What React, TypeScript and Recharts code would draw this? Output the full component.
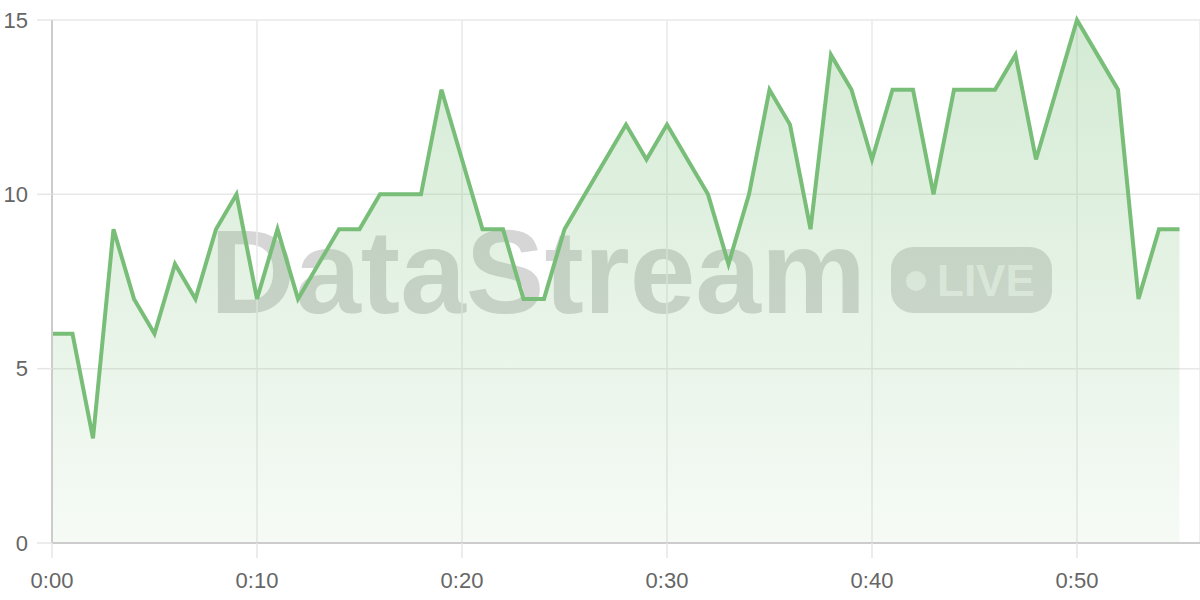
import React from "react";
import { AreaChart, Area, XAxis, YAxis, CartesianGrid } from "recharts";

const minutes: number[] = [
  0, 1, 2, 3, 4, 5, 6, 7, 8, 9, 10, 11, 12, 13, 14, 15, 16, 17, 18, 19,
  20, 21, 22, 23, 24, 25, 26, 27, 28, 29, 30, 31, 32, 33, 34, 35, 36, 37, 38, 39,
  40, 41, 42, 43, 44, 45, 46, 47, 48, 49, 50, 51, 52, 53, 54, 55,
];
const values: number[] = [
  6, 6, 3, 9, 7, 6, 8, 7, 9, 10, 7, 9, 7, 8, 9, 9, 10, 10, 10, 13,
  11, 9, 9, 7, 7, 9, 10, 11, 12, 11, 12, 11, 10, 8, 10, 13, 12, 9, 14, 13,
  11, 13, 13, 10, 13, 13, 13, 14, 11, 13, 15, 14, 13, 7, 9, 9,
];
const xTicks: number[] = [0, 10, 20, 30, 40, 50];
const yTicks: number[] = [0, 5, 10, 15];
const watermarkTitle = "DataStream";
const watermarkBadge = "LIVE";

const data = minutes.map((m, i) => ({ t: m, v: values[i] }));

const fmtTime = (m: number) => `${Math.floor(m / 60)}:${String(m % 60).padStart(2, "0")}`;

const FONT = "'Liberation Sans', Arial, Helvetica, sans-serif";

export default function App() {
  return (
    <div style={{ position: "absolute", left: 0, top: 0, width: 1200, height: 600, background: "#fff" }}>
      <svg
        width={1200}
        height={600}
        style={{ position: "absolute", left: 0, top: 0 }}
      >
        <text
          x={210}
          y={313}
          fontFamily={FONT}
          fontWeight={700}
          fontSize={118}
          fill="rgba(70,70,70,0.22)"
        >
          {watermarkTitle}
        </text>
        <rect x={891} y={247} width={161} height={66} rx={22} ry={22} fill="rgba(70,70,70,0.2)" />
        <circle cx={916} cy={281} r={10} fill="rgba(255,255,255,0.6)" />
        <text
          x={937}
          y={296}
          fontFamily={FONT}
          fontWeight={700}
          fontSize={44}
          fill="rgba(255,255,255,0.6)"
        >
          {watermarkBadge}
        </text>
      </svg>
      <div style={{ position: "absolute", left: 0, top: 0 }}>
        <AreaChart
          width={1200}
          height={600}
          data={data}
          margin={{ top: 20, right: 0, bottom: 0, left: 0 }}
        >
          <defs>
            <linearGradient id="fillGrad" x1="0" y1="0" x2="0" y2="1">
              <stop offset="0%" stopColor="#7cc07c" stopOpacity={0.33} />
              <stop offset="100%" stopColor="#7cc07c" stopOpacity={0.07} />
            </linearGradient>
          </defs>
          <CartesianGrid stroke="#e8e8e8" strokeWidth={1.5} />
          <XAxis
            dataKey="t"
            type="number"
            domain={[0, 56]}
            ticks={xTicks}
            tickFormatter={fmtTime}
            height={57}
            tickSize={15}
            tickMargin={14}
            axisLine={{ stroke: "#cccccc", strokeWidth: 2 }}
            tickLine={{ stroke: "#e6e6e6", strokeWidth: 1.5 }}
            tick={{ fill: "#666666", fontSize: 22, fontFamily: FONT }}
            interval={0}
          />
          <YAxis
            type="number"
            domain={[0, 15]}
            ticks={yTicks}
            width={52}
            tickSize={15}
            tickMargin={9}
            axisLine={{ stroke: "#cccccc", strokeWidth: 2 }}
            tickLine={{ stroke: "#e6e6e6", strokeWidth: 1.5 }}
            tick={{ fill: "#666666", fontSize: 22, fontFamily: FONT }}
            interval={0}
          />
          <Area
            type="linear"
            dataKey="v"
            stroke="#78be78"
            strokeWidth={4}
            fill="url(#fillGrad)"
            fillOpacity={1}
            dot={false}
            activeDot={false}
            isAnimationActive={false}
          />
        </AreaChart>
      </div>
    </div>
  );
}
